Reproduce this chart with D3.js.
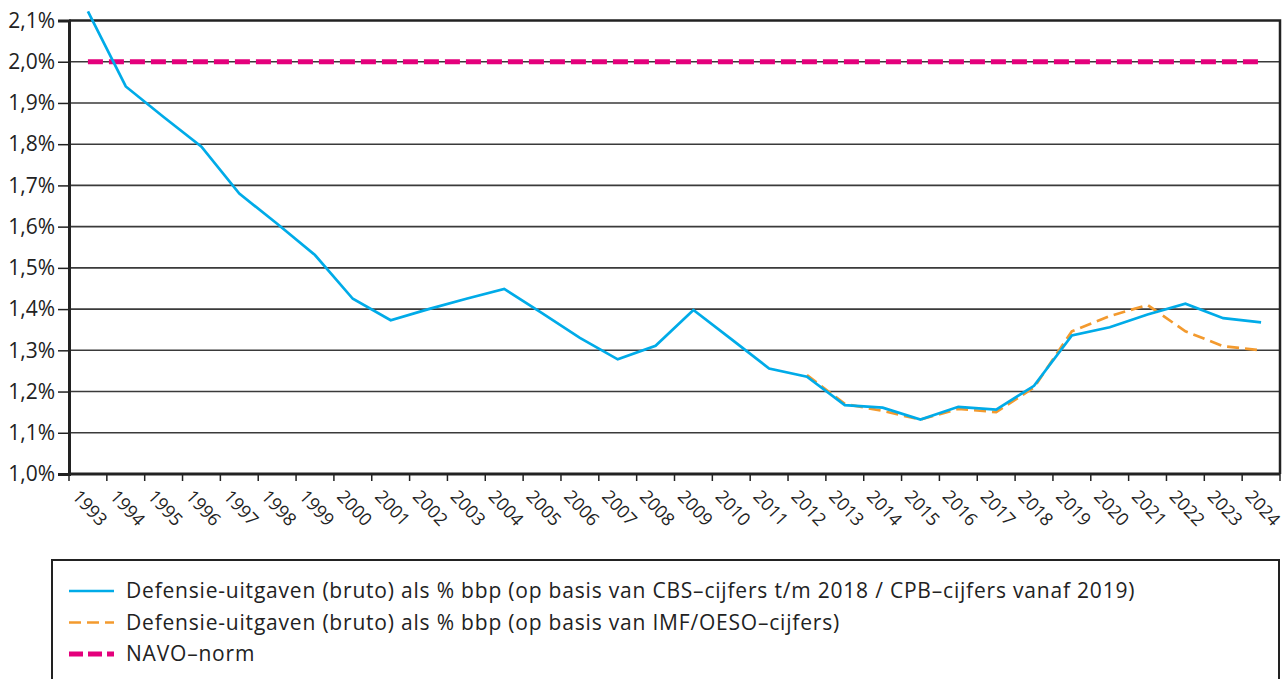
<!DOCTYPE html>
<html>
<head>
<meta charset="utf-8">
<script src="https://cdn.jsdelivr.net/npm/d3@7"></script>
<style>
  body { margin: 0; background: #fff; }
  svg { display: block; font-family: "Open Sans", "DejaVu Sans", sans-serif; }
</style>
</head>
<body>
<svg width="1287" height="679"></svg>
<script>
var years = d3.range(1993, 2025);
var yTicks = [1.0, 1.1, 1.2, 1.3, 1.4, 1.5, 1.6, 1.7, 1.8, 1.9, 2.0, 2.1];

// CBS t/m 2018 / CPB vanaf 2019
var cbs = [2.122, 1.94, 1.866, 1.794, 1.68, 1.607, 1.531, 1.425, 1.373, 1.40, 1.425, 1.449,
  1.39, 1.33, 1.278, 1.311, 1.398, 1.327, 1.256, 1.236, 1.167, 1.161, 1.132, 1.163,
  1.156, 1.214, 1.336, 1.356, 1.387, 1.413, 1.378, 1.368];

// IMF/OESO, vanaf 2012
var imfYears = d3.range(2012, 2025);
var imf = [1.24, 1.17, 1.153, 1.132, 1.158, 1.15, 1.21, 1.346, 1.383, 1.41, 1.346, 1.31, 1.30];

var navo = 2.0;

var legendLabels = [
  "Defensie-uitgaven (bruto) als % bbp (op basis van CBS\u2013cijfers t/m 2018 / CPB\u2013cijfers vanaf 2019)",
  "Defensie-uitgaven (bruto) als % bbp (op basis van IMF/OESO\u2013cijfers)",
  "NAVO\u2013norm"
];

var blue = "#00abe8", orange = "#f39a2e", pink = "#e4007c";

var svg = d3.select("svg"),
  mLeft = 69, mRight = 1280, mTop = 20.5, mBottom = 474;

var x = d3.scaleBand().domain(years).range([mLeft, mRight]);
var y = d3.scaleLinear().domain([1.0, 2.1]).range([mBottom, mTop]);

// gridlines
svg.append("g")
  .selectAll("line")
  .data(yTicks.slice(1, -1))
  .enter().append("line")
  .attr("x1", mLeft).attr("x2", mRight)
  .attr("y1", function(d) { return y(d); })
  .attr("y2", function(d) { return y(d); })
  .attr("stroke", "#3a3a3a")
  .attr("stroke-width", 1.6);

// frame: top + right
svg.append("path")
  .attr("d", "M" + mLeft + "," + mTop + "H" + mRight + "V" + mBottom)
  .attr("fill", "none")
  .attr("stroke", "#222")
  .attr("stroke-width", 2.5);

// y axis
var yAxis = svg.append("g")
  .attr("transform", "translate(" + mLeft + ",0)")
  .call(d3.axisLeft(y).tickValues(yTicks).tickSize(11).tickPadding(3)
    .tickFormat(function(d) { return d3.format(".1f")(d).replace(".", ",") + "%"; }));
yAxis.select(".domain").attr("stroke", "#222").attr("stroke-width", 3);
yAxis.selectAll(".tick line").attr("stroke", "#222").attr("stroke-width", 1.5);
yAxis.selectAll("text").attr("font-size", 21).attr("fill", "#222")
  .attr("font-family", "'Open Sans', sans-serif");

// x axis
var xAxis = svg.append("g")
  .attr("transform", "translate(0," + mBottom + ")");
xAxis.append("line")
  .attr("x1", mLeft - 1).attr("x2", mRight)
  .attr("stroke", "#222").attr("stroke-width", 3);
xAxis.selectAll(".tk")
  .data(years.concat([2025]))
  .enter().append("line")
  .attr("class", "tk")
  .attr("x1", function(d) { return d === 2025 ? mRight : x(d); })
  .attr("x2", function(d) { return d === 2025 ? mRight : x(d); })
  .attr("y1", 0).attr("y2", 7)
  .attr("stroke", "#222").attr("stroke-width", 1.5);
xAxis.selectAll("text")
  .data(years)
  .enter().append("text")
  .attr("transform", function(d) { return "translate(" + (x(d) + 12) + ",14)rotate(47)"; })
  .attr("dy", "0.75em")
  .attr("font-size", 18)
  .attr("fill", "#222")
  .text(function(d) { return d; });

var cx = function(d) { return x(d) + x.bandwidth() / 2; };

// NAVO-norm
svg.append("line")
  .attr("x1", cx(years[0])).attr("x2", cx(years[years.length - 1]))
  .attr("y1", y(navo)).attr("y2", y(navo))
  .attr("stroke", pink)
  .attr("stroke-width", 5)
  .attr("stroke-dasharray", "15,6");

var line = d3.line()
  .x(function(d) { return cx(d[0]); })
  .y(function(d) { return y(d[1]); });

svg.append("path")
  .datum(imfYears.map(function(yr, i) { return [yr, imf[i]]; }))
  .attr("d", line)
  .attr("fill", "none")
  .attr("stroke", orange)
  .attr("stroke-width", 2.7)
  .attr("stroke-dasharray", "12,6");

svg.append("path")
  .datum(years.map(function(yr, i) { return [yr, cbs[i]]; }))
  .attr("d", line)
  .attr("fill", "none")
  .attr("stroke", blue)
  .attr("stroke-width", 2.7);

// legend
var lg = svg.append("g");
lg.append("rect")
  .attr("x", 52).attr("y", 560)
  .attr("width", 1227).attr("height", 200)
  .attr("fill", "none")
  .attr("stroke", "#222")
  .attr("stroke-width", 2);

var styles = [
  { c: blue, w: 2.7, dash: null },
  { c: orange, w: 2.7, dash: "12,6" },
  { c: pink, w: 5, dash: "14,5" }
];

var item = lg.selectAll(".item")
  .data(legendLabels)
  .enter().append("g")
  .attr("transform", function(d, i) { return "translate(0," + (591 + i * 31.5) + ")"; });

item.append("line")
  .attr("x1", 69).attr("x2", 114)
  .attr("stroke", function(d, i) { return styles[i].c; })
  .attr("stroke-width", function(d, i) { return styles[i].w; })
  .attr("stroke-dasharray", function(d, i) { return styles[i].dash; });

item.append("text")
  .attr("x", 126)
  .attr("dy", "0.35em")
  .attr("font-size", 21)
  .attr("letter-spacing", 0.8)
  .attr("fill", "#222")
  .text(function(d) { return d; });
</script>
</body>
</html>
